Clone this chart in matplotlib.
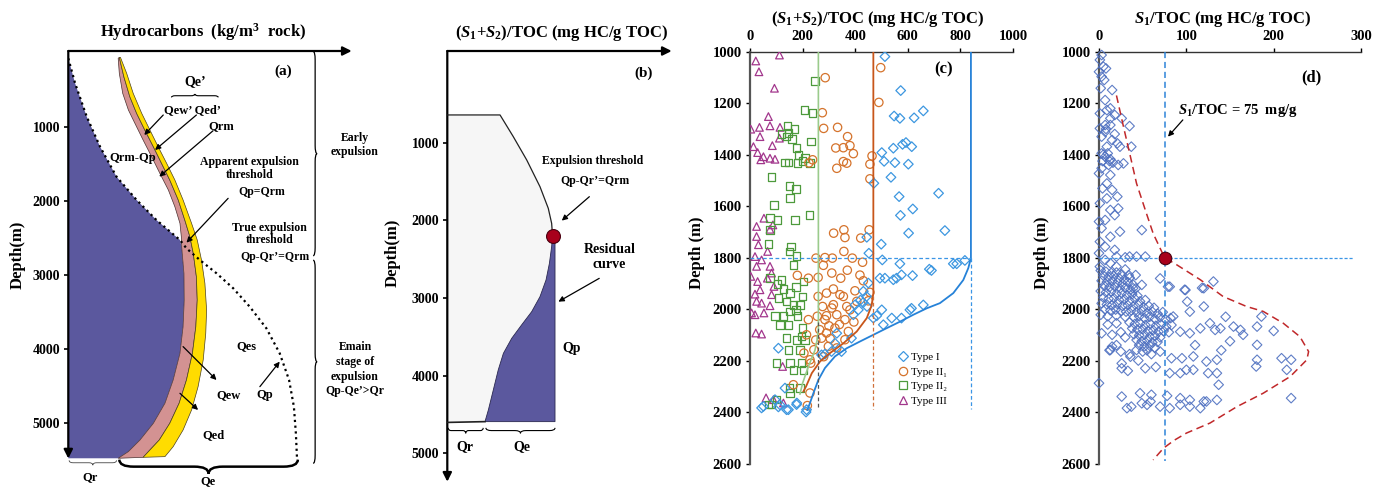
import numpy as np
import matplotlib
matplotlib.use('Agg')
import matplotlib.pyplot as plt
from matplotlib.path import Path
from matplotlib.patches import PathPatch
from matplotlib.lines import Line2D

plt.rcParams['font.family'] = ['Liberation Serif', 'DejaVu Serif']
plt.rcParams['font.weight'] = 'bold'
plt.rcParams['mathtext.fontset'] = 'custom'
plt.rcParams['mathtext.rm'] = 'Liberation Serif:bold'
plt.rcParams['mathtext.it'] = 'Liberation Serif:italic:bold'
plt.rcParams['mathtext.bf'] = 'Liberation Serif:bold'

# ---------------- (a) 排烃模式示意 (x: 相对烃量, 深度 m) ----------------
a_blue_top_x = [0.0, 2.4, 6.5, 11.2, 17.0, 24.1, 31.1, 39.4]
a_blue_top_d = [72, 410, 860, 1266, 1671, 1986, 2257, 2527]
a_blue_edge_x = [40.0, 40.8, 40.9, 40.5, 39.4, 37.0, 34.1, 30.0, 25.3, 21.2, 17.6]
a_blue_edge_d = [2617, 2977, 3338, 3698, 4059, 4419, 4734, 5005, 5230, 5387, 5477]
a_pink_left_x = [17.6, 18.0, 19.2, 21.2, 23.5, 26.4, 29.4, 32.3, 35.3, 37.6, 39.4, 40.0]
a_pink_left_d = [72, 275, 545, 770, 950, 1176, 1401, 1626, 1851, 2077, 2302, 2527]
a_pink_right_x = [18.0, 19.6, 21.7, 24.1, 27.0, 30.0, 32.9, 35.8, 38.8, 41.1, 42.9, 44.1,
                  45.2, 45.5, 45.0, 43.8, 41.7, 39.1, 35.8, 32.1, 28.8, 26.4]
a_pink_right_d = [59, 320, 590, 815, 1041, 1266, 1491, 1716, 1986, 2257, 2482, 2707,
                  3023, 3338, 3698, 4059, 4419, 4734, 5005, 5230, 5365, 5464]
a_yellow_right_x = [18.4, 20.6, 22.9, 25.9, 28.8, 31.7, 34.7, 37.6, 40.5, 43.5, 45.5, 47.0,
                    48.2, 48.8, 48.5, 47.6, 45.8, 43.5, 40.5, 37.0, 34.1]
a_yellow_right_d = [59, 275, 545, 815, 1041, 1266, 1491, 1716, 1986, 2302, 2527, 2797,
                    3113, 3473, 3788, 4149, 4509, 4824, 5095, 5320, 5455]
a_qp_tail_x = [39.4, 41.7, 46.4, 52.3, 58.2, 64.0, 69.9, 74.6, 77.9, 79.6, 80.3, 80.7]
a_qp_tail_d = [2527, 2640, 2797, 2977, 3180, 3428, 3721, 4059, 4419, 4779, 5140, 5477]
a_depth_ticks = [1000, 2000, 3000, 4000, 5000]

# ---------------- (b) 残留烃曲线示意 ----------------
b_gen_x = [0.0, 23.5, 29.4, 35.4, 41.3, 45.0, 46.5, 46.9]
b_gen_d = [643, 643, 922, 1223, 1566, 1845, 2038, 2197]
b_res_x = [46.9, 46.5, 45.5, 44.0, 41.3, 37.6, 33.1, 28.7, 25.0, 22.7, 20.5, 18.3, 16.8]
b_res_d = [2197, 2338, 2553, 2767, 2982, 3175, 3346, 3518, 3711, 3925, 4183, 4440, 4590]
b_right_x = 48.0
b_bottom_d = 4600
b_threshold = (46.9, 2197)
b_depth_ticks = [1000, 2000, 3000, 4000, 5000]

# ---------------- (c) (S1+S2)/TOC 与深度 ----------------
c_type1 = [(513, 1019), (573, 1151), (548, 1250), (570, 1259), (624, 1257), (659, 1230),
           (545, 1375), (580, 1360), (593, 1353), (615, 1369), (501, 1392), (510, 1426),
           (551, 1431), (602, 1437), (536, 1488), (471, 1511), (567, 1563), (717, 1550),
           (619, 1611), (572, 1636), (603, 1705), (741, 1695), (499, 1748), (444, 1721),
           (452, 1783), (503, 1809), (570, 1824), (513, 1880), (545, 1886), (557, 1880),
           (576, 1867), (618, 1870), (682, 1845), (690, 1850), (773, 1824), (786, 1824),
           (817, 1811), (494, 1880), (450, 1899), (431, 1931), (443, 1951), (420, 1965),
           (399, 1984), (412, 2003), (393, 2022), (430, 1975), (445, 1990), (501, 2003),
           (469, 2035), (482, 2026), (539, 2035), (576, 2035), (608, 2003), (614, 1997),
           (659, 1984), (507, 2061), (330, 2094), (386, 2113), (323, 2133), (310, 2165),
           (272, 2178), (348, 2165), (108, 2152), (285, 2175), (133, 2307), (178, 2365),
           (114, 2372), (146, 2391), (215, 2391), (51, 2378), (95, 2352), (44, 2384),
           (108, 2380), (139, 2391), (177, 2371), (213, 2400)]
c_type2a = [(497, 1062), (490, 1197), (286, 1101), (275, 1237), (280, 1298), (333, 1294),
            (371, 1330), (326, 1374), (355, 1373), (380, 1365), (393, 1396), (330, 1453),
            (355, 1427), (368, 1433), (464, 1405), (456, 1437), (456, 1494), (224, 1432),
            (238, 1420), (453, 1692), (421, 1724), (318, 1705), (357, 1692), (361, 1722),
            (357, 1776), (251, 1802), (285, 1800), (313, 1802), (389, 1802), (279, 1830),
            (311, 1860), (345, 1880), (370, 1849), (428, 1818), (418, 1868), (180, 1869),
            (222, 1880), (259, 1877), (259, 1951), (291, 1938), (317, 1922), (342, 1944),
            (355, 1951), (399, 1929), (431, 1890), (456, 1935), (450, 1968), (406, 1970),
            (368, 1990), (317, 1983), (276, 1990), (291, 2026), (330, 2022), (380, 2003),
            (361, 2041), (323, 2074), (291, 2093), (272, 2113), (298, 2145), (330, 2151),
            (361, 2119), (256, 2028), (222, 2041), (215, 2100), (243, 2158), (228, 2197),
            (205, 2171), (231, 2210), (165, 2294), (228, 2326), (218, 2375), (285, 2041),
            (311, 1996), (374, 2087), (340, 2060), (395, 2050), (300, 2065), (265, 2080),
            (250, 2120), (280, 2185), (305, 2115)]
c_type2b = [(247, 1113), (207, 1226), (238, 1237), (231, 1349), (142, 1288), (169, 1301),
            (146, 1317), (139, 1330), (177, 1375), (184, 1401), (209, 1414), (133, 1431),
            (146, 1431), (180, 1433), (228, 1433), (82, 1488), (150, 1521), (175, 1534),
            (152, 1569), (91, 1595), (226, 1634), (171, 1653), (76, 1647), (104, 1653),
            (76, 1692), (71, 1748), (155, 1757), (150, 1776), (177, 1793), (165, 1828),
            (76, 1880), (120, 1886), (104, 1902), (127, 1922), (152, 1938), (175, 1915),
            (203, 1893), (200, 1951), (108, 1957), (139, 1970), (165, 1983), (190, 1983),
            (95, 2028), (127, 2026), (152, 2009), (175, 2003), (180, 2028), (114, 2061),
            (146, 2061), (200, 2074), (196, 2106), (139, 2113), (177, 2119), (209, 2119),
            (146, 2158), (190, 2158), (101, 2210), (152, 2210), (196, 2210), (165, 2236),
            (203, 2236), (150, 2307), (190, 2307), (152, 2326), (101, 2352), (82, 2371),
            (70, 2371), (120, 1320), (160, 1340), (200, 1425)]
c_type3 = [(112, 1013), (22, 1036), (34, 1078), (93, 1142), (70, 1252), (3, 1301), (36, 1294),
           (76, 1288), (114, 1294), (38, 1330), (112, 1336), (85, 1365), (13, 1369), (29, 1392),
           (41, 1420), (51, 1408), (76, 1414), (95, 1418), (53, 1647), (25, 1679), (87, 1673),
           (76, 1690), (25, 1718), (32, 1750), (67, 1776), (19, 1796), (44, 1809), (25, 1834),
           (76, 1834), (82, 1860), (3, 1873), (29, 1893), (66, 1880), (91, 1912), (38, 1925),
           (19, 1942), (82, 1944), (25, 1970), (44, 1977), (76, 1987), (6, 2015), (53, 2015),
           (19, 2022), (22, 2093), (44, 2097), (124, 2223), (61, 2345), (127, 2365), (89, 2352)]
c_ii2_x = [260, 260, 255, 247, 222, 200, 190]
c_ii2_d = [1000, 2080, 2120, 2160, 2223, 2288, 2330]
c_ii1_x = [469, 469, 463, 444, 406, 355, 304, 266, 235, 213, 203]
c_ii1_d = [1000, 1938, 1984, 2035, 2087, 2133, 2171, 2204, 2249, 2301, 2320]
c_i_x = [840, 840, 830, 811, 773, 722, 672, 621, 570, 520, 469, 418, 368, 323, 285, 260, 241, 228, 218]
c_i_d = [1000, 1802, 1841, 1887, 1938, 1977, 1997, 2022, 2049, 2074, 2100, 2126, 2152, 2184,
         2229, 2275, 2327, 2365, 2392]
c_depth_ticks = list(range(1000, 2601, 200))
c_x_ticks = [0, 200, 400, 600, 800, 1000]

# ---------------- (d) S1/TOC 与深度 ----------------
d_points = [
    # 1000-1900 m
    (3, 1013), (1, 1032), (5, 1058), (8, 1065), (0, 1078), (3, 1097), (6, 1110), (2, 1142),
    (15, 1149), (7, 1188), (13, 1220), (9, 1227), (1, 1240), (18, 1246), (26, 1259), (13, 1259),
    (7, 1285), (13, 1285), (35, 1289), (1, 1298), (7, 1311), (3, 1330), (15, 1343), (21, 1356),
    (24, 1369), (37, 1369), (9, 1369), (3, 1395), (7, 1408), (13, 1418), (16, 1431), (22, 1440),
    (28, 1434), (11, 1440), (3, 1453), (13, 1479), (0, 1473), (9, 1512), (4, 1531), (15, 1537),
    (21, 1563), (9, 1570), (1, 1589), (22, 1609), (13, 1615), (18, 1635), (7, 1654), (0, 1660),
    (3, 1686), (24, 1699), (49, 1693), (13, 1719), (1, 1738), (7, 1758), (18, 1770), (0, 1783),
    (7, 1809), (20, 1796), (30, 1799), (35, 1796), (43, 1796), (53, 1796), (1, 1835), (13, 1822),
    (20, 1835), (30, 1846), (34, 1868), (42, 1868), (70, 1881), (79, 1913), (99, 1926),
    (120, 1919), (131, 1893), (49, 1906), (39, 1919), (5, 1400), (10, 1395), (12, 1425),
    (4, 1425), (8, 1300), (18, 1320),
    # 主要排烃段密集带
    (2, 1850), (8, 1855), (14, 1860), (20, 1858), (26, 1865), (5, 1870), (11, 1875), (17, 1872),
    (23, 1880), (29, 1885), (35, 1878), (3, 1890), (9, 1895), (15, 1892), (21, 1898), (27, 1902),
    (33, 1895), (39, 1905), (6, 1910), (12, 1915), (18, 1912), (24, 1920), (30, 1918), (36, 1925),
    (42, 1920), (2, 1930), (8, 1935), (14, 1932), (20, 1940), (26, 1938), (32, 1945), (38, 1942),
    (44, 1948), (5, 1955), (11, 1960), (17, 1958), (23, 1965), (29, 1962), (35, 1968), (41, 1960),
    (47, 1970), (53, 1965), (3, 1978), (9, 1982), (15, 1985), (21, 1980), (27, 1988), (33, 1985),
    (39, 1990), (45, 1985), (51, 1992), (57, 1988), (63, 1995), (7, 2000), (13, 2005), (19, 2002),
    (25, 2008), (31, 2010), (37, 2005), (43, 2012), (49, 2008), (55, 2015), (61, 2010), (67, 2018),
    (73, 2012), (2, 2022), (10, 2028), (20, 2025), (30, 2030), (40, 2032), (46, 2028), (52, 2035),
    (58, 2030), (64, 2038), (70, 2032), (76, 2040), (82, 2035), (35, 2052), (41, 2058), (47, 2055),
    (53, 2062), (59, 2058), (65, 2065), (71, 2060), (77, 2068), (83, 2062), (38, 2075), (44, 2080),
    (50, 2078), (56, 2085), (62, 2082), (68, 2088), (74, 2085), (80, 2090), (40, 2098), (46, 2102),
    (52, 2100), (58, 2108), (64, 2105), (70, 2110), (43, 2120), (49, 2125), (55, 2122), (61, 2130),
    (67, 2128), (46, 2140), (52, 2145), (58, 2142), (64, 2150), (55, 2160), (50, 2165),
    (10, 2060), (20, 2055), (25, 2090), (15, 2100), (30, 2110), (20, 2140), (12, 2160),
    (25, 2165), (35, 2175),
    # 2000-2400 m 分散点
    (81, 1913), (98, 1925), (118, 1918), (101, 1971), (120, 1990), (104, 2010), (85, 2029),
    (186, 2029), (154, 2068), (162, 2081), (181, 2068), (116, 2075), (127, 2055), (133, 2081),
    (139, 2075), (93, 2088), (104, 2094), (181, 2139), (209, 2191), (220, 2197), (181, 2197),
    (180, 2223), (215, 2236), (135, 2197), (123, 2204), (108, 2184), (95, 2191), (83, 2191),
    (81, 2249), (93, 2249), (100, 2236), (108, 2236), (125, 2249), (135, 2249), (53, 2230),
    (26, 2230), (137, 2294), (26, 2340), (47, 2327), (60, 2333), (78, 2337), (93, 2346),
    (104, 2353), (120, 2359), (135, 2353), (32, 2385), (37, 2379), (49, 2366), (55, 2372),
    (59, 2359), (70, 2379), (81, 2385), (93, 2372), (104, 2379), (116, 2385), (123, 2359),
    (220, 2346), (0, 2288), (3, 2094), (15, 2146), (13, 2159), (26, 2211), (43, 2159), (36, 2185),
    (60, 2175), (70, 2165), (45, 2200), (65, 2225), (33, 2240), (145, 2030), (165, 2100),
    (150, 2125), (140, 2160), (200, 2085), (110, 2140)]
d_fit_x = [20, 28, 36, 43, 53, 62, 71, 75, 89, 116, 142, 169, 188, 211, 230, 240, 238,
           219, 188, 158, 127, 100, 86, 74, 62]
d_fit_d = [1170, 1291, 1408, 1512, 1615, 1706, 1771, 1800, 1828, 1886, 1951, 1990, 2009, 2055,
           2107, 2165, 2197, 2262, 2327, 2379, 2443, 2482, 2510, 2540, 2586]
d_threshold = (75, 1800)
d_depth_ticks = list(range(1000, 2601, 200))
d_x_ticks = [0, 100, 200, 300]

W, H = 1376, 490
fig = plt.figure(figsize=(W / 100, H / 100), dpi=100)


def px_axes(l, t, r, b):
    return fig.add_axes([l / W, 1 - b / H, (r - l) / W, (b - t) / H])


def px_text(x, y, s, **kw):
    kw.setdefault('ha', 'center')
    kw.setdefault('va', 'center')
    fig.text(x / W, 1 - y / H, s, **kw)


def hbrace(ax, x0, x1, y, h, lw=1.0, color='k'):
    xm = (x0 + x1) / 2
    q = (x1 - x0) * 0.08
    verts = [(x0, y), (x0, y + h / 2), (x0 + q, y + h / 2), (xm - q, y + h / 2),
             (xm, y + h / 2), (xm, y + h), (xm, y + h / 2), (xm + q, y + h / 2),
             (x1 - q, y + h / 2), (x1, y + h / 2), (x1, y)]
    codes = [Path.MOVETO, Path.CURVE3, Path.CURVE3, Path.LINETO, Path.CURVE3, Path.CURVE3,
             Path.CURVE3, Path.CURVE3, Path.LINETO, Path.CURVE3, Path.CURVE3]
    ax.add_patch(PathPatch(Path(verts, codes), fill=False, lw=lw, color=color, clip_on=False))


def vbrace(ax, y0, y1, x, w, lw=1.0, color='k'):
    ym = (y0 + y1) / 2
    q = (y1 - y0) * 0.04
    verts = [(x, y0), (x + w / 2, y0), (x + w / 2, y0 + q), (x + w / 2, ym - q),
             (x + w / 2, ym), (x + w, ym), (x + w / 2, ym), (x + w / 2, ym + q),
             (x + w / 2, y1 - q), (x + w / 2, y1), (x, y1)]
    codes = [Path.MOVETO, Path.CURVE3, Path.CURVE3, Path.LINETO, Path.CURVE3, Path.CURVE3,
             Path.CURVE3, Path.CURVE3, Path.LINETO, Path.CURVE3, Path.CURVE3]
    ax.add_patch(PathPatch(Path(verts, codes), fill=False, lw=lw, color=color, clip_on=False))


def axis_arrows(ax):
    for tip in [(1, 1), (0, 0)]:
        ax.annotate('', xy=tip, xytext=(0, 1), xycoords='axes fraction',
                    arrowprops=dict(arrowstyle='-|>', color='k', lw=1.6, mutation_scale=13,
                                    shrinkA=0, shrinkB=0), annotation_clip=False)


def arrow(ax, tail, tip):
    ax.annotate('', xy=tip, xytext=tail,
                arrowprops=dict(arrowstyle='-|>', color='k', lw=0.9, mutation_scale=8,
                                shrinkA=0, shrinkB=0), annotation_clip=False)


def sketch_axes(ax, ticks, ylim):
    ax.set_xlim(0, 100)
    ax.set_ylim(*ylim)
    for s in ax.spines.values():
        s.set_visible(False)
    ax.set_xticks([])
    ax.set_yticks(ticks)
    ax.tick_params(axis='y', direction='out', length=3, width=1.2, labelsize=10, pad=3)
    axis_arrows(ax)


# ---------- (a) ----------
ax = px_axes(68.3, 51, 351.7, 458.5)
sketch_axes(ax, a_depth_ticks, (5480, -27))
ax.fill(a_blue_top_x + a_blue_edge_x + [0], a_blue_top_d + a_blue_edge_d + [5477],
        color='#5b589e', lw=0, zorder=1)
ax.fill(a_pink_left_x + a_blue_edge_x + a_pink_right_x[::-1],
        a_pink_left_d + a_blue_edge_d + a_pink_right_d[::-1],
        facecolor='#d39292', edgecolor='#4a3030', lw=0.5, zorder=2)
ax.fill(a_pink_right_x + a_yellow_right_x[::-1], a_pink_right_d + a_yellow_right_d[::-1],
        facecolor='#ffdc00', edgecolor='#4a4020', lw=0.5, zorder=2)
ax.plot(a_blue_top_x + a_qp_tail_x, a_blue_top_d + a_qp_tail_d, color='k', lw=1.6,
        ls=(0, (1, 1.6)), zorder=3)

fs = 9
ax.text(75.8, 243, '(a)', fontsize=11, ha='center', va='center')
ax.text(44.7, 387, 'Qe’', fontsize=10, ha='center', va='center')
hbrace(ax, 36.4, 52.9, 600, -45, lw=0.8)
ax.text(43.7, 770, 'Qew’ Qed’', fontsize=fs, ha='center', va='center')
ax.text(54.1, 986, 'Qrm', fontsize=fs, ha='center', va='center')
arrow(ax, (33.5, 838), (26.8, 1108))
arrow(ax, (45.2, 838), (30.6, 1311))
arrow(ax, (51.1, 1050), (32.1, 1671))
ax.text(22.7, 1414, 'Qrm-Qp', fontsize=fs, ha='center', va='center')
ax.text(64.0, 1477, 'Apparent expulsion', fontsize=8.5, ha='center', va='center')
ax.text(64.0, 1649, 'threshold', fontsize=8.5, ha='center', va='center')
ax.text(68.2, 1874, 'Qp=Qrm', fontsize=8.5, ha='center', va='center')
arrow(ax, (56.4, 1964), (41.7, 2563))
ax.text(71.1, 2360, 'True expulsion', fontsize=8.5, ha='center', va='center')
ax.text(70.9, 2527, 'threshold', fontsize=8.5, ha='center', va='center')
ax.text(72.9, 2752, 'Qp-Qr’=Qrm', fontsize=8.5, ha='center', va='center')
ax.text(62.9, 3968, 'Qes', fontsize=fs, ha='center', va='center')
ax.text(56.4, 4622, 'Qew', fontsize=fs, ha='center', va='center')
arrow(ax, (40.5, 3968), (52.3, 4419))
ax.text(69.3, 4622, 'Qp', fontsize=fs, ha='center', va='center')
arrow(ax, (67.6, 4509), (74.6, 4171))
ax.text(51.1, 5162, 'Qed', fontsize=fs, ha='center', va='center')
arrow(ax, (39.4, 4599), (45.8, 4824))
hbrace(ax, 0.3, 17.0, 5505, 65, lw=0.6, color='#444444')
ax.text(7.6, 5734, 'Qr', fontsize=fs, ha='center', va='center')
hbrace(ax, 18.0, 81.0, 5495, 190, lw=1.8)
ax.text(49.4, 5790, 'Qe', fontsize=fs, ha='center', va='center')
vbrace(ax, -20, 2740, 86.4, 1.4, lw=0.9)
vbrace(ax, 2800, 5545, 86.4, 1.4, lw=0.9)

px_text(203, 32, r'Hydrocarbons  (kg/m$^{3}$  rock)', fontsize=12)
px_text(18, 255, 'Depth(m)', fontsize=12, rotation=90)
for y, s in zip([138, 152], ['Early', 'expulsion']):
    px_text(355, y, s, fontsize=8.5)
for y, s in zip([347, 362, 377, 391], ['Emain', 'stage of', 'expulsion', 'Qp-Qe’>Qr']):
    px_text(355, y, s, fontsize=8.5)

# ---------- (b) ----------
ax = px_axes(447.3, 51, 671.7, 481.7)
sketch_axes(ax, b_depth_ticks, (5363, -180))
ax.fill(b_gen_x + b_res_x + [0], b_gen_d + b_res_d + [b_bottom_d],
        facecolor='#f6f6f6', edgecolor='none', zorder=1)
ax.plot(b_gen_x, b_gen_d, color='#222222', lw=0.9, zorder=3)
ax.plot([0, b_res_x[-1]], [b_bottom_d, b_res_d[-1]], color='#222222', lw=1.2, zorder=3)
ax.fill(b_res_x + [b_right_x, b_right_x], b_res_d + [b_res_d[-1], b_res_d[0] + 30],
        facecolor='#5b589e', edgecolor='#2a2850', lw=0.6, zorder=2)
ax.plot(*b_threshold, 'o', ms=10, mfc='#a8001c', mec='#4a0010', mew=0.8, zorder=5)
ax.text(87.3, 107, '(b)', fontsize=11, ha='center', va='center')
ax.text(64.8, 1231, 'Expulsion threshold', fontsize=8.5, ha='center', va='center')
ax.text(65.8, 1489, 'Qp-Qr’=Qrm', fontsize=8.5, ha='center', va='center')
arrow(ax, (63.3, 1695), (51.0, 2003))
ax.text(72.2, 2372, 'Residual', fontsize=10, ha='center', va='center')
ax.text(72.2, 2574, 'curve', fontsize=10, ha='center', va='center')
arrow(ax, (67.7, 2746), (49.5, 3046))
ax.text(55.4, 3646, 'Qp', fontsize=10, ha='center', va='center')
hbrace(ax, 0.4, 16.0, 4670, 70, lw=0.8)
hbrace(ax, 17.2, 48.0, 4670, 70, lw=0.8)
ax.text(7.9, 4912, 'Qr', fontsize=10, ha='center', va='center')
ax.text(33.1, 4912, 'Qe', fontsize=10, ha='center', va='center')
px_text(561.7, 32.7, r'$(\mathit{S}_{1}$+$\mathit{S}_{2})$/TOC (mg HC/g TOC)', fontsize=12)
px_text(393, 253, 'Depth(m)', fontsize=12, rotation=90)


def data_axes(ax, xlim, xticks, yticks):
    ax.set_xlim(*xlim)
    ax.set_ylim(2600, 1000)
    ax.set_xticks(xticks)
    ax.set_yticks(yticks)
    ax.xaxis.set_ticks_position('top')
    ax.spines['right'].set_visible(False)
    ax.spines['bottom'].set_visible(False)
    ax.spines['left'].set_color('#555555')
    ax.spines['left'].set_linewidth(1.6)
    ax.spines['top'].set_color('#333333')
    ax.spines['top'].set_linewidth(1.0)
    ax.tick_params(axis='both', direction='out', length=3, width=1, labelsize=10.5, pad=3)


# ---------- (c) ----------
ax = px_axes(750, 51.7, 1013, 463.5)
data_axes(ax, (0, 1000), c_x_ticks, c_depth_ticks)
mk = dict(facecolors='none', linewidths=0.9, zorder=3)
t3 = np.array(c_type3)
t2b = np.array(c_type2b)
t2a = np.array(c_type2a)
t1 = np.array(c_type1)
ax.scatter(t3[:, 0], t3[:, 1], s=30, marker='^', edgecolors='#a2368c', **mk)
ax.scatter(t2b[:, 0], t2b[:, 1], s=30, marker='s', edgecolors='#4d9a3c', **mk)
ax.scatter(t2a[:, 0], t2a[:, 1], s=36, marker='o', edgecolors='#d5732c', **mk)
ax.scatter(t1[:, 0], t1[:, 1], s=24, marker='D', edgecolors='#3d97e0', **mk)
ax.plot(c_ii2_x, c_ii2_d, color='#9acb8c', lw=1.2, zorder=4)
ax.plot(c_ii1_x, c_ii1_d, color='#c8561a', lw=1.3, zorder=4)
ax.plot(c_i_x, c_i_d, color='#2682d8', lw=1.3, zorder=4)
ax.plot([c_ii2_x[0]] * 2, [2050, 2390], color='#555555', lw=0.9, ls=(0, (3, 2)), zorder=4)
ax.plot([c_ii1_x[0]] * 2, [1950, 2390], color='#d0703a', lw=0.9, ls=(0, (3, 2)), zorder=4)
ax.plot([c_i_x[0]] * 2, [1800, 2390], color='#3a95e6', lw=0.9, ls=(0, (3, 2)), zorder=4)
ax.plot([0, c_i_x[0]], [1800, 1800], color='#3a95e6', lw=0.9, ls=(0, (3, 2)), zorder=4)
ax.text(735, 1070, '(c)', fontsize=12, ha='center', va='center')
handles = [Line2D([], [], ls='none', marker='D', ms=5, mfc='none', mec='#3d97e0', mew=0.9),
           Line2D([], [], ls='none', marker='o', ms=6, mfc='none', mec='#d5732c', mew=0.9),
           Line2D([], [], ls='none', marker='s', ms=5.5, mfc='none', mec='#4d9a3c', mew=0.9),
           Line2D([], [], ls='none', marker='^', ms=6, mfc='none', mec='#a2368c', mew=0.9)]
ax.legend(handles, ['Type I', 'Type II\u2081', 'Type II\u2082', 'Type III'],
          loc='upper left', bbox_to_anchor=(898 / W, 1 - 352 / H), bbox_transform=fig.transFigure,
          frameon=False, borderpad=0, borderaxespad=0, handlelength=0.9, handletextpad=0.3,
          labelspacing=0.45, prop={'weight': 'normal', 'size': 8})
px_text(878, 19, r'$(\mathit{S}_{1}$+$\mathit{S}_{2})$/TOC (mg HC/g TOC)', fontsize=12)
px_text(697, 253, 'Depth (m)', fontsize=12, rotation=90)

# ---------- (d) ----------
ax = px_axes(1099, 51.7, 1361, 463.5)
data_axes(ax, (0, 300), d_x_ticks, d_depth_ticks)
pts = np.array(d_points)
ax.scatter(pts[:, 0], pts[:, 1], s=24, marker='D', facecolors='none', edgecolors='#4d6fc0',
           linewidths=0.8, alpha=0.9, zorder=3, clip_on=False)
ax.plot([d_threshold[0]] * 2, [1000, 2590], color='#2d84d8', lw=1.1, ls=(0, (4, 2.5)), zorder=4)
ax.plot([0, 292], [d_threshold[1]] * 2, color='#3a95e6', lw=0.9, ls=(0, (2.5, 1.5)), zorder=4)
ax.plot(d_fit_x, d_fit_d, color='#c0282a', lw=1.1, ls=(0, (5, 3)), zorder=4)
ax.plot(*d_threshold, 'o', ms=9, mfc='#a8001c', mec='#4a0010', mew=0.8, zorder=5)
ax.text(243, 1098, '(d)', fontsize=12, ha='center', va='center')
ax.text(90, 1230, r'$\mathit{S}_{1}$/TOC = 75  mg/g', fontsize=10.5, ha='left', va='center')
arrow(ax, (96, 1265), (79, 1330))
px_text(1223, 19, r'$\mathit{S}_{1}$/TOC (mg HC/g TOC)', fontsize=12)
px_text(1042, 253, 'Depth (m)', fontsize=12, rotation=90)

fig.savefig('out.png', dpi=100)
